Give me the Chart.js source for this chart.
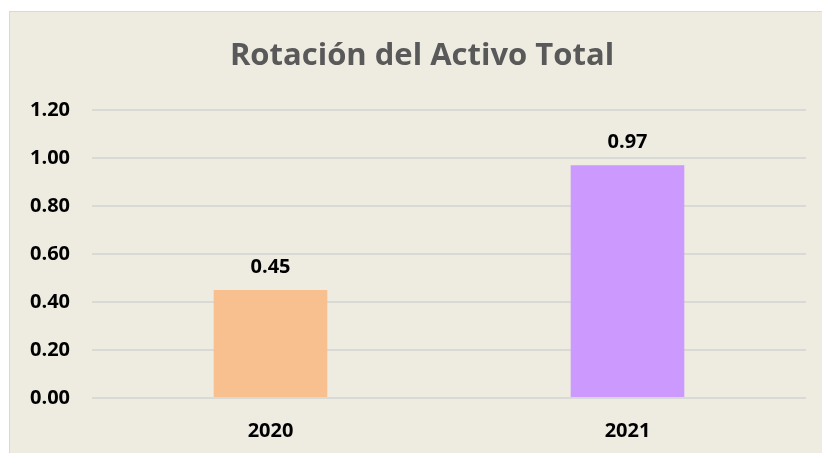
<!DOCTYPE html>
<html>
<head>
<meta charset="utf-8">
<script src="https://cdn.jsdelivr.net/npm/chart.js@4/dist/chart.umd.min.js"></script>
<style>
  html, body { margin: 0; padding: 0; background: #ffffff; overflow: hidden; }
  #box {
    position: absolute; left: 9px; top: 11px; width: 830px; height: 450px;
    background: #eeebe0; border: 1px solid #d9d9d9;
  }
  #wrap { position: absolute; left: 0; top: 0; width: 824px; height: 442px; }
</style>
</head>
<body>
<div id="box"><div id="wrap"><canvas id="myChart"></canvas></div></div>
<script>
// chart data
var years = ["2020", "2021"];
var rotation = [0.45, 0.97];
var barColors = ["#f8c08e", "#cc99ff"];
var chartTitle = "Rotación del Activo Total";

var fontName = "'Open Sans', Lato, sans-serif";

// title centred on the whole box, values written above each bar
var extraText = {
    id: "extraText",
    afterDatasetsDraw: function(chart){
        var ctx = chart.ctx;
        var meta = chart.getDatasetMeta(0);
        ctx.save();
        ctx.textAlign = "center";
        ctx.textBaseline = "middle";
        ctx.font = "bold 31px " + fontName;
        ctx.fillStyle = "#595959";
        ctx.fillText(chartTitle, 412, 44);
        ctx.font = "bold 20px " + fontName;
        ctx.fillStyle = "#000000";
        meta.data.forEach(function(bar, i){
            ctx.fillText(rotation[i].toFixed(2), bar.x, bar.y - 23);
        });
        ctx.restore();
    }
};

var graphic = document.getElementById("myChart");
var chart = new Chart(graphic, {
    type: "bar",
    data: {
        labels: years,
        datasets: [{
            data: rotation,
            backgroundColor: barColors,
            barPercentage: 0.95,
            categoryPercentage: 0.335
        }]
    },
    options: {
        responsive: true,
        maintainAspectRatio: false,
        animation: false,
        layout: { padding: { left: 0, right: 28, top: 98, bottom: 0 } },
        plugins: {
            legend: { display: false },
            tooltip: { enabled: false },
            title: { display: false }
        },
        scales: {
            x: {
                grid: { display: false, drawTicks: false },
                border: { display: false },
                ticks: {
                    color: "#000000",
                    padding: 21,
                    font: { family: fontName, size: 20, weight: "bold" }
                },
                afterFit: function(scale){ scale.height = 56; }
            },
            y: {
                min: 0,
                max: 1.2,
                grid: { color: "#d9d9d6", lineWidth: 2, drawTicks: false },
                border: { display: false },
                ticks: {
                    stepSize: 0.2,
                    color: "#000000",
                    padding: 22,
                    font: { family: fontName, size: 20, weight: "bold" },
                    callback: function(v){ return v.toFixed(2); }
                },
                afterFit: function(scale){ scale.width = 82; }
            }
        }
    },
    plugins: [extraText]
});
</script>
</body>
</html>
